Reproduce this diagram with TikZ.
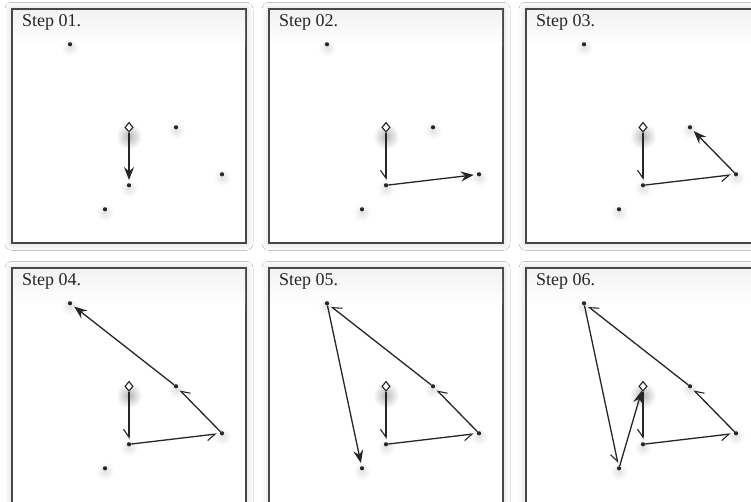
\documentclass[tikz,border=0pt]{standalone}
\usepackage{fontspec}
\setmainfont{Liberation Serif}
\usetikzlibrary{arrows.meta,shadows.blur,shapes.geometric}
\begin{document}
\begin{tikzpicture}[x=1pt,y=-1pt,
  panelbox/.style={draw=black!72, line width=1.6pt, fill=white,
    blur shadow={shadow xshift=0pt, shadow yshift=0pt, shadow blur radius=7pt, shadow opacity=20}},
  ptnode/.style={circle, fill=black!85, inner sep=0pt, minimum size=4.2pt},
  startnode/.style={diamond, draw=black!85, fill=white, line width=1pt, inner sep=0pt, minimum width=8pt, minimum height=9.5pt},
  titlenode/.style={anchor=base west, inner sep=0pt, text=black!85, font=\fontsize{18}{20}\selectfont},
  edgeline/.style={draw=black!85, line width=1.3pt, shorten >=3pt},
  curedge/.style={edgeline, -{Stealth[length=13pt,width=10pt,inset=4.5pt]}},
  doneedge/.style={edgeline, -{Straight Barb[harpoon,swap,length=8pt,width=11pt,line width=1.1pt]}},
]
\useasboundingbox (0,0) rectangle (751,502);
\clip (0,0) rectangle (751,502);
\fill[white] (0,0) rectangle (751,502);
\foreach \n/\ox/\oy in {1/12/9.3, 2/269/9.3, 3/526/9.3, 4/12/268.3, 5/269/268.3, 6/526/268.3}{
  \begin{scope}[shift={(\ox,\oy)}]
    \path[panelbox] (0,0) rectangle (234,234);
    \shade[top color=black!5, bottom color=white] (1,1) rectangle (233,36);
    \node[titlenode] (T\n) at (10,17.5) {Step 0\n.};
    % soft glows
    \foreach \gx/\gy in {58/38, 164/121, 210/168, 117/179, 93/203}{
      \shade[inner color=black!11, outer color=white] (\gx,\gy) circle (9);
    }
    \shade[inner color=black!28, outer color=white] (117,127) circle (13);
    \node[ptnode] (A\n) at (58,35) {};
    \node[ptnode] (B\n) at (164,118) {};
    \node[ptnode] (C\n) at (210,165) {};
    \node[ptnode] (E\n) at (117,176) {};
    \node[ptnode] (F\n) at (93,200) {};
    \node[startnode] (D\n) at (117,118) {};
  \end{scope}
}
% completed steps (half arrow heads)
\foreach \n in {2,...,6}{ \draw[doneedge] (D\n) -- (E\n); }
\foreach \n in {3,...,6}{ \draw[doneedge] (E\n) -- (C\n); }
\foreach \n in {4,...,6}{ \draw[doneedge] (C\n) -- (B\n); }
\foreach \n in {5,6}{ \draw[doneedge] (B\n) -- (A\n); }
\draw[doneedge] (A6) -- (F6);
% current steps
\draw[curedge] (D1) -- (E1);
\draw[curedge] (E2) -- (C2);
\draw[curedge] (C3) -- (B3);
\draw[curedge] (B4) -- (A4);
\draw[curedge] (A5) -- (F5);
\draw[curedge, shorten >=0.5pt] (F6) -- (D6);
\foreach \n in {1,...,6}{ \node[startnode] at (D\n) {}; }
\end{tikzpicture}
\end{document}
